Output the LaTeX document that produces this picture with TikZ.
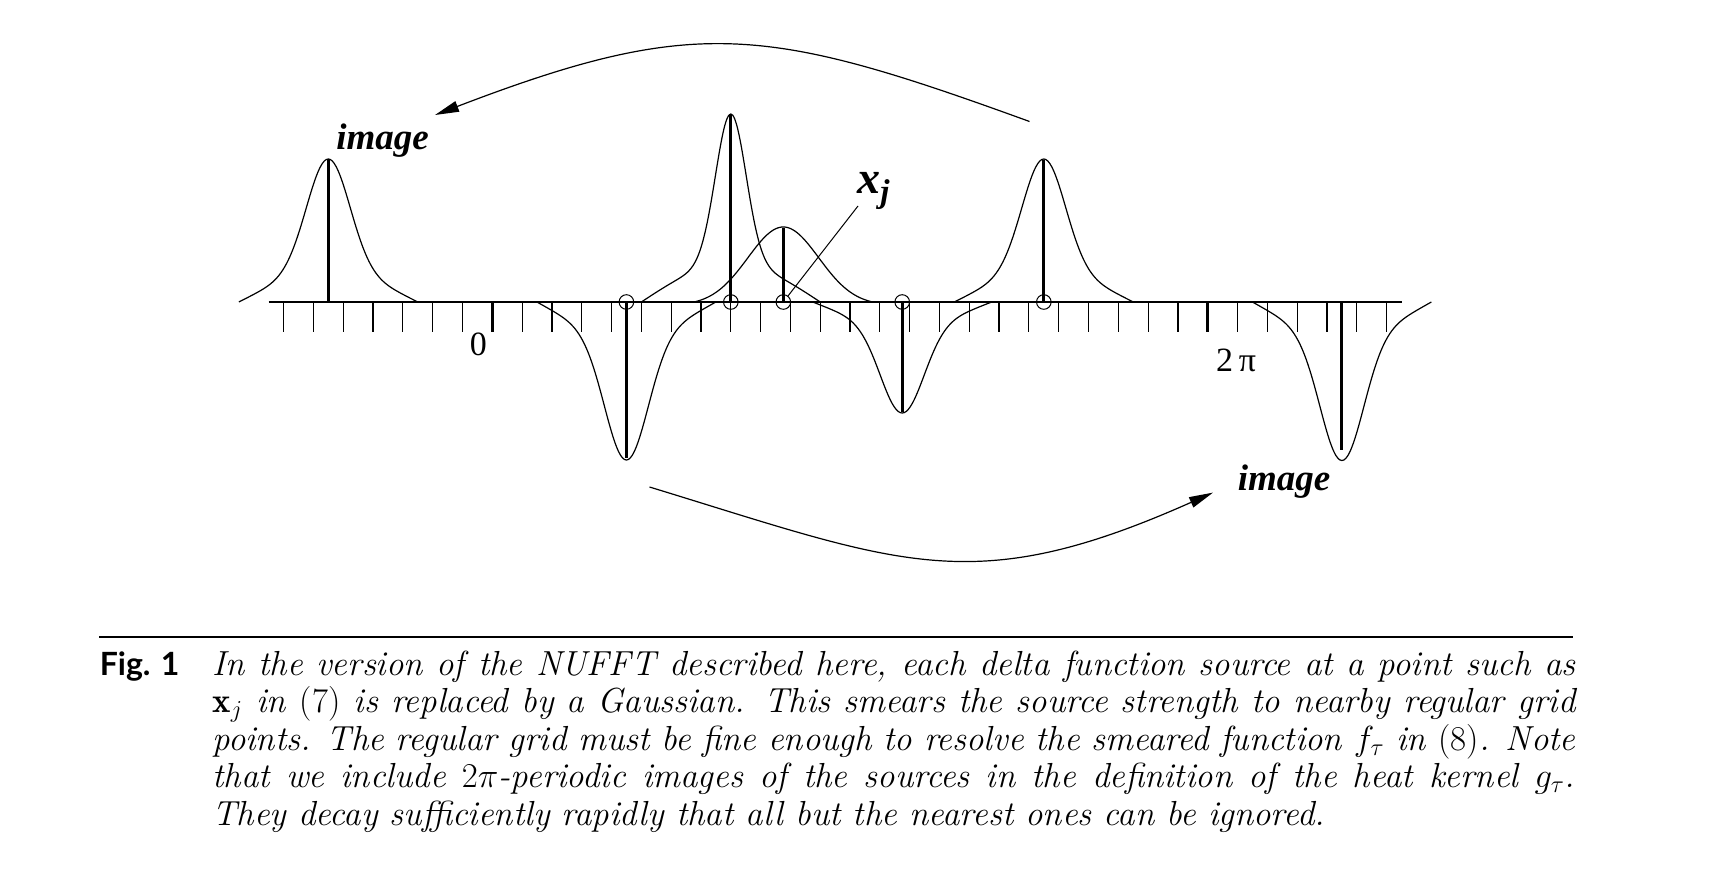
\RequirePackage{fix-cm}
\documentclass[tikz,border=0pt]{standalone}
\usepackage{fontspec}
\newfontfamily\tms{Liberation Serif}
\newfontfamily\figsans{Lato}
\usetikzlibrary{arrows.meta}
\begin{document}
\begin{tikzpicture}[x=0.5pt,y=-0.5pt,
  curve/.style={line width=0.6pt},
  stem/.style={line width=1.5pt},
  tickmark/.style={line width=0.6pt},
  bigtick/.style={line width=1.5pt},
  src/.style={circle,draw,line width=0.5pt,inner sep=0pt,minimum size=7.3pt},
  lbl/.style={font=\tms\bfseries\itshape\fontsize{18.5}{20}\selectfont, inner sep=0pt},
  arr/.style={line width=0.6pt,-{Triangle[length=12pt,width=5.5pt]}},
  captext/.style={anchor=base west, inner sep=0pt, font=\fontsize{17.4}{18.8}\selectfont\itshape},
  declare function={fimg(\t)=0.8*exp(-\t*\t/1.037)+0.2*cos(30*\t);
                    ftall(\t)=0.8*exp(-\t*\t/0.52)+0.2*cos(30*\t);
                    fxj(\t)=(exp(-\t*\t/2.83)-0.0418)/0.958;}
]
\useasboundingbox (0,0) rectangle (1732,877);
% axis and ticks
\draw[line width=0.6pt] (268.7,302) -- (1401.5,302);
\foreach \i in {-7,...,30} \draw[tickmark] ({492.3+29.81*\i},302) -- ++(0,29.7);
\draw[bigtick] (492.3,302) -- ++(0,29.7);
\draw[bigtick] (1207.7,302) -- ++(0,29.7);
% source circles
\node[src] (s1) at (626.4,302) {};
\node[src] (s2) at (730.8,302) {};
\node[src] (s3) at (783.3,302) {};
\node[src] (s4) at (902.2,302) {};
\node[src] (s5) at (1043.8,302) {};
% gaussians
\draw[curve] plot[domain=-3:3,samples=91,smooth] ({328.3+29.81*\x},{302-143*fimg(\x)});
\draw[curve] plot[domain=-3:3,samples=91,smooth] ({626.4+29.81*\x},{302+158*fimg(\x)});
\draw[curve] plot[domain=-3:3,samples=91,smooth] ({730.8+29.81*\x},{302-188*ftall(\x)});
\draw[curve] plot[domain=-3:3,samples=91,smooth] ({783.3+29.81*\x},{302-75*fxj(\x)});
\draw[curve] plot[domain=-3:3,samples=91,smooth] ({902.2+29.81*\x},{302+111*fimg(\x)});
\draw[curve] plot[domain=-3:3,samples=91,smooth] ({1043.8+29.81*\x},{302-143*fimg(\x)});
\draw[curve] plot[domain=-3:3,samples=91,smooth] ({1341.9+29.81*\x},{302+158.5*fimg(\x)});
% stems
\draw[stem] (328.3,302) -- (328.3,159);
\draw[stem] (s1.center) -- (626.4,458);
\draw[stem] (s2.center) -- (730.8,114);
\draw[stem] (s3.center) -- (783.3,228);
\draw[stem] (s4.center) -- (902.2,412);
\draw[stem] (s5.center) -- (1043.8,160);
\draw[stem] (1341.9,302) -- (1341.9,450);
% axis labels
\node[font=\tms\fontsize{17}{19}\selectfont, anchor=base, inner sep=0pt] (zero) at (478.3,355) {0};
\node[font=\tms\fontsize{17}{19}\selectfont, anchor=base, inner sep=0pt] (twopi) at (1236,371) {2\,π};
% labels
\node[lbl, anchor=base] (imgL) at (382.5,150) {image};
\node[lbl, anchor=base] (imgR) at (1284,490.5) {image};
\node[anchor=base west, inner sep=0pt] (xj) at (857,193)
  {\tms\bfseries\itshape\fontsize{23}{25}\selectfont x\raisebox{-5pt}{\fontsize{16.5}{18}\selectfont j}};
\coordinate (lead) at (858,206);
\draw[line width=0.5pt] (lead) -- (s3);
% arrows
\coordinate (ta0) at (1029.5,121.5);
\coordinate (ta1) at (435,115);
\draw[arr] (ta0) .. controls (767.2,26.1) and (695.6,15.1) .. (ta1);
\coordinate (ba0) at (649.5,487);
\coordinate (ba1) at (1213,492.6);
\draw[arr] (ba0) .. controls (901.9,564.1) and (971.7,600) .. (ba1);
% caption
\draw[line width=1pt] (99.4,637.4) -- (1573,637.4);
\node[anchor=base west, inner sep=0pt, font=\figsans\bfseries\fontsize{16}{18}\selectfont] (fig) at (99.4,675) {Fig. 1};
\node[captext] (l1) at (212,675) {\makebox[681.5pt][s]{In the version of the NUFFT described here, each delta function source at a point such as}};
\node[captext] (l2) at (212,712.5) {\makebox[681.5pt][s]{$\mathbf{x}_j$ in \textup{(7)} is replaced by a Gaussian. This smears the source strength to nearby regular grid}};
\node[captext] (l3) at (212,750) {\makebox[681.5pt][s]{points. The regular grid must be fine enough to resolve the smeared function $f_\tau$ in \textup{(8)}. Note}};
\node[captext] (l4) at (212,787.6) {\makebox[681.5pt][s]{that we include $2\pi$-periodic images of the sources in the definition of the heat kernel $g_\tau$.}};
\node[captext] (l5) at (212,825) {They decay sufficiently rapidly that all but the nearest ones can be ignored.};
\end{tikzpicture}
\end{document}
